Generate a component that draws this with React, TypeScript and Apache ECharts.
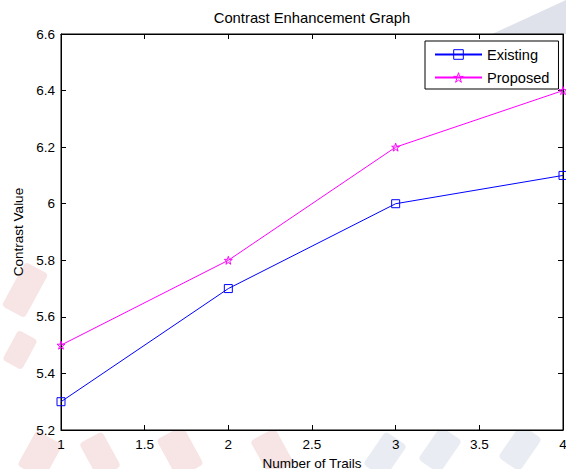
import React, { useEffect, useRef } from "react";
import * as echarts from "echarts";

const trials = [1, 2, 3, 4];
const existing = [5.3, 5.7, 6.0, 6.1];
const proposed = [5.5, 5.8, 6.2, 6.4];
const seriesNames = ["Existing", "Proposed"];
const seriesColors = ["#0000ff", "#ff00ff"];
const titleText = "Contrast Enhancement Graph";
const xName = "Number of Trails";
const yName = "Contrast Value";

const STAR =
  "path://M50,0 L61,35 L98,35 L68,57 L79,91 L50,70 L21,91 L32,57 L2,35 L39,35 Z";

const FONT = "'Liberation Sans', Arial, sans-serif";

export default function App() {
  const ref = useRef<HTMLDivElement>(null);
  useEffect(() => {
    if (!ref.current) return;
    const chart = echarts.init(ref.current, null, { renderer: "svg" });
    const toPairs = (ys: number[]) => trials.map((x, i) => [x, ys[i]]);
    const blob = (x: number, y: number, w: number, h: number, rot: number, color: string) => ({
      type: "rect",
      x,
      y,
      rotation: rot,
      shape: { x: -w / 2, y: -h / 2, width: w, height: h, r: 4 },
      style: { fill: color, opacity: 0.3 },
      z: -10,
      silent: true,
    });
    const emptyStyle = (c: string) => ({ color: "rgba(0,0,0,0)", borderColor: c, borderWidth: 1 });
    chart.setOption({
      animation: false,
      backgroundColor: "#ffffff",
      textStyle: { fontFamily: FONT },
      title: {
        text: titleText,
        left: 312,
        textAlign: "center",
        top: 10,
        padding: 0,
        textStyle: { fontSize: 14.8, fontWeight: "normal", color: "#000", fontFamily: FONT },
      },
      graphic: [
        {
          type: "polygon",
          shape: { points: [[492, 34], [566, 0], [566, 34]] },
          style: { fill: "#dfe2ea" },
          z: -10,
          silent: true,
        },
        blob(25, 290, 26, 50, -0.5, "#e3a5a8"),
        blob(20, 350, 22, 34, -0.5, "#e3a5a8"),
        blob(40, 455, 30, 40, -0.5, "#e3a5a8"),
        blob(100, 455, 26, 40, 0.5, "#e3a5a8"),
        blob(180, 452, 30, 44, 0.5, "#e3a5a8"),
        blob(272, 452, 28, 40, 0.5, "#e3a5a8"),
        blob(385, 455, 26, 40, -0.6, "#b5bfd3"),
        blob(440, 450, 26, 40, -0.6, "#b5bfd3"),
        blob(520, 448, 26, 40, -0.6, "#b5bfd3"),
      ],
      legend: {
        left: 425,
        top: 41,
        orient: "vertical",
        backgroundColor: "#ffffff",
        borderColor: "#000000",
        borderWidth: 1,
        borderRadius: 0,
        padding: [6, 9, 4, 9],
        itemWidth: 47,
        itemHeight: 12,
        itemGap: 8,
        textStyle: { fontSize: 14.6, color: "#000", fontFamily: FONT, padding: [0, 0, 0, 0] },
        data: seriesNames.map((n, i) => ({ name: n, itemStyle: emptyStyle(seriesColors[i]) })),
      },
      grid: {
        left: 61,
        right: 3,
        top: 34,
        bottom: 39,
        show: true,
        outerBoundsMode: "none",
        containLabel: false,
        backgroundColor: "#ffffff",
        borderColor: "#000000",
        borderWidth: 1,
      },
      xAxis: [
        {
          type: "value",
          min: 1,
          max: 4,
          interval: 0.5,
          name: xName,
          nameLocation: "middle",
          nameGap: 26,
          nameTextStyle: { fontSize: 13.5, color: "#000", fontFamily: FONT },
          axisLine: { show: true, onZero: false, lineStyle: { color: "#000", width: 1 } },
          axisTick: { show: true, inside: true, length: 5, lineStyle: { color: "#000" } },
          axisLabel: { fontSize: 13.5, color: "#000", margin: 7, fontFamily: FONT, hideOverlap: false },
          splitLine: { show: false },
        },
        {
          type: "value",
          position: "top",
          min: 1,
          max: 4,
          interval: 0.5,
          axisLine: { show: true, onZero: false, lineStyle: { color: "#000", width: 1 } },
          axisTick: { show: true, inside: true, length: 5, lineStyle: { color: "#000" } },
          axisLabel: { show: false },
          splitLine: { show: false },
        },
      ],
      yAxis: [
        {
          type: "value",
          min: 5.2,
          max: 6.6,
          interval: 0.2,
          name: yName,
          nameLocation: "middle",
          nameGap: 35,
          nameTextStyle: { fontSize: 13.5, color: "#000", fontFamily: FONT },
          axisLine: { show: true, onZero: false, lineStyle: { color: "#000", width: 1 } },
          axisTick: { show: true, inside: true, length: 5, lineStyle: { color: "#000" } },
          axisLabel: { fontSize: 13.5, color: "#000", margin: 6, fontFamily: FONT },
          splitLine: { show: false },
        },
        {
          type: "value",
          position: "right",
          min: 5.2,
          max: 6.6,
          interval: 0.2,
          axisLine: { show: true, onZero: false, lineStyle: { color: "#000", width: 1 } },
          axisTick: { show: true, inside: true, length: 5, lineStyle: { color: "#000" } },
          axisLabel: { show: false },
          splitLine: { show: false },
        },
      ],
      series: [
        {
          name: seriesNames[0],
          type: "line",
          data: toPairs(existing),
          symbol: "rect",
          symbolSize: 8,
          color: seriesColors[0],
          lineStyle: { color: seriesColors[0], width: 1 },
          itemStyle: emptyStyle(seriesColors[0]),
          clip: false,
        },
        {
          name: seriesNames[1],
          type: "line",
          data: toPairs(proposed),
          symbol: STAR,
          symbolSize: 8,
          color: seriesColors[1],
          lineStyle: { color: seriesColors[1], width: 1 },
          itemStyle: emptyStyle(seriesColors[1]),
          clip: false,
        },
      ],
    });
    return () => chart.dispose();
  }, []);
  return <div ref={ref} style={{ width: 566, height: 469, position: "absolute", left: 0, top: 0 }} />;
}
